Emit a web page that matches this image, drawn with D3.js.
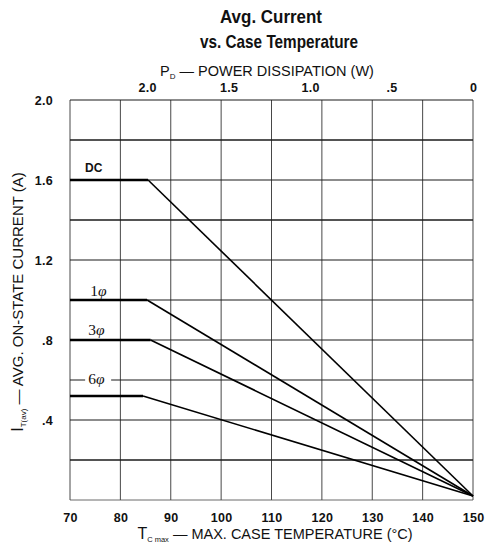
<!DOCTYPE html>
<html>
<head>
<meta charset="utf-8">
<script src="https://cdn.jsdelivr.net/npm/d3@7"></script>
<style>
  html, body { margin: 0; padding: 0; background: #fff; }
  svg { display: block; }
  text { font-family: "Liberation Sans", Arial, sans-serif; fill: #111; }
</style>
</head>
<body>
<svg id="chart" width="487" height="555"></svg>
<script>
// ---- data ----
const tempTicks = [70, 80, 90, 100, 110, 120, 130, 140, 150];
const currentGrid = [0.2, 0.4, 0.6, 0.8, 1.0, 1.2, 1.4, 1.6, 1.8, 2.0];
const currentTickLabels = [0.4, 0.8, 1.2, 1.6, 2.0];
const powerTicks = [2.0, 1.5, 1.0, 0.5, 0];
const seriesNames = ["DC", "1φ", "3φ", "6φ"];
const seriesTemp = [
  [70, 85.5, 150],
  [70, 85.3, 150],
  [70, 86, 150],
  [70, 84.5, 150]
];
const seriesCurrent = [
  [1.6, 1.6, 0.02],
  [1.0, 1.0, 0.02],
  [0.8, 0.8, 0.02],
  [0.52, 0.52, 0.02]
];
const powerAtTemp = { pMax: 2.0, tAtPMax: 85.3, tAtZero: 150 };

// ---- chart ----
const svg = d3.select("#chart");
const x = d3.scaleLinear().domain([70, 150]).range([70, 473]);
const y = d3.scaleLinear().domain([0, 2]).range([500, 100]);
const xp = d3.scaleLinear().domain([powerAtTemp.pMax, 0])
  .range([x(powerAtTemp.tAtPMax), x(powerAtTemp.tAtZero)]);

// gridlines
const g = svg.append("g");
g.selectAll("line.v").data(tempTicks).join("line")
  .attr("x1", d => x(d)).attr("x2", d => x(d))
  .attr("y1", y(2)).attr("y2", y(0))
  .attr("stroke", "#333").attr("stroke-width", 0.9);
g.selectAll("line.h").data(currentGrid).join("line")
  .attr("x1", x(70)).attr("x2", x(150))
  .attr("y1", d => y(d)).attr("y2", d => y(d))
  .attr("stroke", "#1a1a1a")
  .attr("stroke-width", d => (Math.abs(d - 0.2) < 1e-9 || Math.abs(d - 1.8) < 1e-9 || Math.abs(d - 1.4) < 1e-9) ? 1.5 : 1.1);
g.append("line").attr("x1", x(70)).attr("x2", x(150))
  .attr("y1", y(0)).attr("y2", y(0)).attr("stroke", "#444").attr("stroke-width", 0.8);

// axes
const axBottom = svg.append("g").attr("transform", `translate(0,${y(0)})`)
  .call(d3.axisBottom(x).tickValues(tempTicks).tickSize(0).tickPadding(13).tickFormat(d3.format("d")));
const axLeft = svg.append("g").attr("transform", `translate(${x(70)},0)`)
  .call(d3.axisLeft(y).tickValues(currentTickLabels).tickSize(0).tickPadding(17)
    .tickFormat(d => d === 2 ? "2.0" : d3.format(".1f")(d).replace(/^0/, "")));
const axTop = svg.append("g").attr("transform", `translate(0,${y(2)})`)
  .call(d3.axisTop(xp).tickValues(powerTicks).tickSize(0).tickPadding(8)
    .tickFormat(d => d === 0 ? "0" : d3.format(".1f")(d).replace(/^0/, "")));
[axBottom, axLeft, axTop].forEach(a => {
  a.select(".domain").remove();
  a.selectAll("text").attr("font-size", 12.5).attr("font-family", "Liberation Sans, Arial, sans-serif")
    .attr("fill", "#111").style("font-weight", "bold").style("letter-spacing", "0.3px");
});

// series
const line = d3.line().x(d => x(d[0])).y(d => y(d[1]));
seriesNames.forEach((name, i) => {
  const pts = seriesTemp[i].map((t, j) => [t, seriesCurrent[i][j]]);
  svg.append("path").datum(pts.slice(0, 2)).attr("d", line)
    .attr("fill", "none").attr("stroke", "#000").attr("stroke-width", 2.4);
  svg.append("path").datum(pts.slice(1)).attr("d", line)
    .attr("fill", "none").attr("stroke", "#000").attr("stroke-width", 1.6);
});

// series labels
const labelPos = [
  { t: 73, c: 1.64, bg: false },
  { t: 74, c: 1.02, bg: false },
  { t: 73.6, c: 0.827, bg: false },
  { t: 73.6, c: 0.58, bg: true }
];
seriesNames.forEach((name, i) => {
  const p = labelPos[i];
  if (p.bg) {
    svg.append("rect").attr("x", x(p.t) - 3).attr("y", y(0.6) - 3)
      .attr("width", 26).attr("height", 6).attr("fill", "#fff");
  }
  if (name === "DC") {
    svg.append("text").attr("x", x(p.t)).attr("y", y(p.c))
      .attr("font-size", 12).attr("font-weight", "bold").text(name);
  } else {
    const tx = svg.append("text").attr("x", x(p.t)).attr("y", y(p.c)).attr("font-size", 15.5);
    tx.append("tspan").attr("font-family", "Liberation Serif, serif").text(name[0]);
    tx.append("tspan").attr("font-family", "Liberation Serif, serif").attr("font-style", "italic").text(name.slice(1));
  }
});

// titles
const title = svg.append("g").attr("text-anchor", "middle");
title.append("text").attr("x", 271).attr("y", 23)
  .attr("font-weight", "bold").attr("font-size", 19)
  .attr("textLength", 102).attr("lengthAdjust", "spacingAndGlyphs").text("Avg. Current");
title.append("text").attr("x", 279).attr("y", 48)
  .attr("font-weight", "bold").attr("font-size", 19)
  .attr("textLength", 158).attr("lengthAdjust", "spacingAndGlyphs").text("vs. Case Temperature");

// top axis title
const tt = svg.append("text").attr("x", 267).attr("y", 76).attr("text-anchor", "middle").attr("font-size", 14.5);
tt.append("tspan").text("P");
tt.append("tspan").attr("font-size", 8).attr("dy", 3).text("D");
tt.append("tspan").attr("dy", -3).text(" — POWER DISSIPATION (W)");

// bottom axis title
const bt = svg.append("text").attr("x", 275).attr("y", 539).attr("text-anchor", "middle").attr("font-size", 14.5);
bt.append("tspan").attr("font-size", 16).text("T");
bt.append("tspan").attr("font-size", 7.5).attr("dy", 3).text("C max");
bt.append("tspan").attr("dy", -3).text(" — MAX. CASE TEMPERATURE (°C)");

// left axis title
const lt = svg.append("text").attr("transform", "translate(23,302) rotate(-90)")
  .attr("text-anchor", "middle").attr("font-size", 15);
lt.append("tspan").attr("font-size", 16).text("I");
lt.append("tspan").attr("font-size", 8).attr("dy", 3).text("T(av)");
lt.append("tspan").attr("dy", -3).text(" — AVG. ON-STATE CURRENT (A)");
</script>
</body>
</html>
